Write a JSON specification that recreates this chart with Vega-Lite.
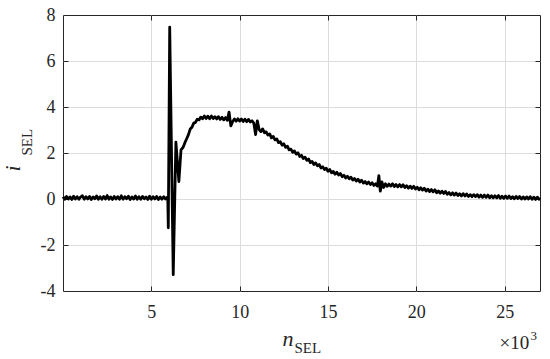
{
  "$schema": "https://vega.github.io/schema/vega-lite/v6.json",
  "width": 477,
  "height": 276,
  "autosize": {"type": "none"},
  "padding": {"left": 63, "top": 15, "right": 10, "bottom": 68},
  "background": "white",
  "config": {
    "view": {"stroke": "#262626", "strokeWidth": 1},
    "axis": {"labelFont": "Liberation Serif", "titleFont": "Liberation Serif", "titleFontWeight": "normal", "titleColor": "#262626", "labelColor": "#262626"}
  },
  "data": {
    "values": [
      {"n": 0.0, "i": 0.10}, {"n": 0.1, "i": -0.01}, {"n": 0.2, "i": 0.11}, {"n": 0.3, "i": 0.00}, {"n": 0.4, "i": 0.09},
      {"n": 0.5, "i": -0.02}, {"n": 0.6, "i": 0.12}, {"n": 0.7, "i": 0.00}, {"n": 0.8, "i": 0.10}, {"n": 0.9, "i": -0.01},
      {"n": 1.0, "i": 0.09}, {"n": 1.1, "i": 0.14}, {"n": 1.2, "i": -0.01}, {"n": 1.3, "i": 0.10}, {"n": 1.4, "i": 0.00},
      {"n": 1.5, "i": 0.11}, {"n": 1.6, "i": -0.02}, {"n": 1.7, "i": 0.09}, {"n": 1.8, "i": 0.01}, {"n": 1.9, "i": 0.13},
      {"n": 2.0, "i": -0.01}, {"n": 2.1, "i": 0.10}, {"n": 2.2, "i": -0.01}, {"n": 2.3, "i": 0.11}, {"n": 2.4, "i": 0.00},
      {"n": 2.5, "i": 0.15}, {"n": 2.6, "i": -0.01}, {"n": 2.7, "i": 0.09}, {"n": 2.8, "i": -0.02}, {"n": 2.9, "i": 0.11},
      {"n": 3.0, "i": 0.00}, {"n": 3.1, "i": 0.10}, {"n": 3.2, "i": -0.01}, {"n": 3.3, "i": 0.14}, {"n": 3.4, "i": -0.01},
      {"n": 3.5, "i": 0.10}, {"n": 3.6, "i": 0.01}, {"n": 3.7, "i": 0.12}, {"n": 3.8, "i": -0.02}, {"n": 3.9, "i": 0.09},
      {"n": 4.0, "i": 0.00}, {"n": 4.1, "i": 0.13}, {"n": 4.2, "i": -0.01}, {"n": 4.3, "i": 0.10}, {"n": 4.4, "i": -0.01},
      {"n": 4.5, "i": 0.11}, {"n": 4.6, "i": 0.01}, {"n": 4.7, "i": 0.09}, {"n": 4.8, "i": -0.02}, {"n": 4.9, "i": 0.12},
      {"n": 5.0, "i": -0.01}, {"n": 5.1, "i": 0.10}, {"n": 5.2, "i": 0.00}, {"n": 5.3, "i": 0.11}, {"n": 5.4, "i": -0.02},
      {"n": 5.5, "i": 0.09}, {"n": 5.6, "i": -0.01}, {"n": 5.7, "i": 0.10}, {"n": 5.8, "i": 0.00}, {"n": 5.9, "i": 0.08},
      {"n": 5.93, "i": 0.05}, {"n": 5.96, "i": -1.25}, {"n": 6.04, "i": 7.47}, {"n": 6.24, "i": -3.29},
      {"n": 6.39, "i": 2.47}, {"n": 6.56, "i": 0.76}, {"n": 6.68, "i": 2.14}, {"n": 6.8, "i": 2.25},
      {"n": 6.9, "i": 2.45}, {"n": 7.0, "i": 2.62}, {"n": 7.1, "i": 2.80}, {"n": 7.2, "i": 3.04}, {"n": 7.3, "i": 3.12},
      {"n": 7.4, "i": 3.30}, {"n": 7.5, "i": 3.33}, {"n": 7.6, "i": 3.47}, {"n": 7.7, "i": 3.44}, {"n": 7.8, "i": 3.56},
      {"n": 7.9, "i": 3.49}, {"n": 8.0, "i": 3.61}, {"n": 8.1, "i": 3.50}, {"n": 8.2, "i": 3.60},
      {"n": 8.3, "i": 3.49}, {"n": 8.4, "i": 3.61}, {"n": 8.5, "i": 3.50}, {"n": 8.6, "i": 3.58},
      {"n": 8.7, "i": 3.48}, {"n": 8.8, "i": 3.58}, {"n": 8.9, "i": 3.46}, {"n": 9.0, "i": 3.55},
      {"n": 9.1, "i": 3.44}, {"n": 9.2, "i": 3.54}, {"n": 9.3, "i": 3.42}, {"n": 9.4, "i": 3.78}, {"n": 9.5, "i": 3.18},
      {"n": 9.6, "i": 3.36}, {"n": 9.7, "i": 3.48}, {"n": 9.8, "i": 3.38}, {"n": 9.9, "i": 3.49}, {"n": 10.0, "i": 3.39},
      {"n": 10.1, "i": 3.48}, {"n": 10.2, "i": 3.37}, {"n": 10.3, "i": 3.47}, {"n": 10.4, "i": 3.36}, {"n": 10.5, "i": 3.46},
      {"n": 10.6, "i": 3.35}, {"n": 10.7, "i": 3.40}, {"n": 10.8, "i": 3.30},
      {"n": 10.9, "i": 2.80}, {"n": 11.0, "i": 3.40}, {"n": 11.1, "i": 3.02}, {"n": 11.2, "i": 2.93},
      {"n": 11.3, "i": 3.05}, {"n": 11.4, "i": 2.88}, {"n": 11.5, "i": 2.92}, {"n": 11.6, "i": 2.78}, {"n": 11.7, "i": 2.83},
      {"n": 11.8, "i": 2.66}, {"n": 11.9, "i": 2.72},
      {"n": 12.0, "i": 2.57}, {"n": 12.1, "i": 2.61}, {"n": 12.2, "i": 2.45}, {"n": 12.3, "i": 2.49}, {"n": 12.4, "i": 2.34},
      {"n": 12.5, "i": 2.40}, {"n": 12.6, "i": 2.25}, {"n": 12.7, "i": 2.30}, {"n": 12.8, "i": 2.14}, {"n": 12.9, "i": 2.17},
      {"n": 13.0, "i": 2.03}, {"n": 13.1, "i": 2.09}, {"n": 13.2, "i": 1.95}, {"n": 13.3, "i": 2.01}, {"n": 13.4, "i": 1.85},
      {"n": 13.5, "i": 1.90}, {"n": 13.6, "i": 1.76}, {"n": 13.7, "i": 1.82}, {"n": 13.8, "i": 1.68}, {"n": 13.9, "i": 1.74},
      {"n": 14.0, "i": 1.58}, {"n": 14.1, "i": 1.63}, {"n": 14.2, "i": 1.50}, {"n": 14.3, "i": 1.57}, {"n": 14.4, "i": 1.44},
      {"n": 14.5, "i": 1.50}, {"n": 14.6, "i": 1.35}, {"n": 14.7, "i": 1.40}, {"n": 14.8, "i": 1.28}, {"n": 14.9, "i": 1.34},
      {"n": 15.0, "i": 1.21}, {"n": 15.1, "i": 1.28}, {"n": 15.2, "i": 1.14}, {"n": 15.3, "i": 1.20}, {"n": 15.4, "i": 1.08},
      {"n": 15.5, "i": 1.16}, {"n": 15.6, "i": 1.04}, {"n": 15.7, "i": 1.11}, {"n": 15.8, "i": 0.97}, {"n": 15.9, "i": 1.03},
      {"n": 16.0, "i": 0.91}, {"n": 16.1, "i": 0.99}, {"n": 16.2, "i": 0.88}, {"n": 16.3, "i": 0.95}, {"n": 16.4, "i": 0.82},
      {"n": 16.5, "i": 0.89}, {"n": 16.6, "i": 0.78}, {"n": 16.7, "i": 0.86}, {"n": 16.8, "i": 0.74}, {"n": 16.9, "i": 0.82},
      {"n": 17.0, "i": 0.69}, {"n": 17.1, "i": 0.76}, {"n": 17.2, "i": 0.66}, {"n": 17.3, "i": 0.74}, {"n": 17.4, "i": 0.63},
      {"n": 17.5, "i": 0.71}, {"n": 17.6, "i": 0.59}, {"n": 17.7, "i": 0.66}, {"n": 17.8, "i": 0.56},
      {"n": 17.88, "i": 1.02}, {"n": 17.96, "i": 0.34}, {"n": 18.05, "i": 0.74}, {"n": 18.15, "i": 0.50}, {"n": 18.25, "i": 0.66},
      {"n": 18.35, "i": 0.55}, {"n": 18.45, "i": 0.65}, {"n": 18.55, "i": 0.56}, {"n": 18.65, "i": 0.66}, {"n": 18.75, "i": 0.54},
      {"n": 18.85, "i": 0.63}, {"n": 18.95, "i": 0.53}, {"n": 19.05, "i": 0.63}, {"n": 19.15, "i": 0.53}, {"n": 19.25, "i": 0.62},
      {"n": 19.35, "i": 0.50}, {"n": 19.45, "i": 0.58}, {"n": 19.55, "i": 0.47}, {"n": 19.65, "i": 0.56}, {"n": 19.75, "i": 0.46},
      {"n": 19.85, "i": 0.55}, {"n": 19.95, "i": 0.43}, {"n": 20.05, "i": 0.51}, {"n": 20.15, "i": 0.40}, {"n": 20.25, "i": 0.49},
      {"n": 20.35, "i": 0.39}, {"n": 20.45, "i": 0.47}, {"n": 20.55, "i": 0.35}, {"n": 20.65, "i": 0.43}, {"n": 20.75, "i": 0.32},
      {"n": 20.85, "i": 0.41}, {"n": 20.95, "i": 0.31}, {"n": 21.05, "i": 0.40}, {"n": 21.15, "i": 0.27}, {"n": 21.25, "i": 0.35},
      {"n": 21.35, "i": 0.25}, {"n": 21.45, "i": 0.34}, {"n": 21.55, "i": 0.24}, {"n": 21.65, "i": 0.33}, {"n": 21.75, "i": 0.20},
      {"n": 21.85, "i": 0.28}, {"n": 21.95, "i": 0.18}, {"n": 22.05, "i": 0.27}, {"n": 22.15, "i": 0.17}, {"n": 22.25, "i": 0.26},
      {"n": 22.35, "i": 0.15}, {"n": 22.45, "i": 0.23}, {"n": 22.55, "i": 0.13}, {"n": 22.65, "i": 0.23}, {"n": 22.75, "i": 0.13},
      {"n": 22.85, "i": 0.22}, {"n": 22.95, "i": 0.11}, {"n": 23.05, "i": 0.19}, {"n": 23.15, "i": 0.10}, {"n": 23.25, "i": 0.19},
      {"n": 23.35, "i": 0.10}, {"n": 23.45, "i": 0.19}, {"n": 23.55, "i": 0.08}, {"n": 23.65, "i": 0.17}, {"n": 23.75, "i": 0.07},
      {"n": 23.85, "i": 0.17}, {"n": 23.95, "i": 0.07}, {"n": 24.05, "i": 0.17}, {"n": 24.15, "i": 0.05}, {"n": 24.25, "i": 0.14},
      {"n": 24.35, "i": 0.05}, {"n": 24.45, "i": 0.14}, {"n": 24.55, "i": 0.05}, {"n": 24.65, "i": 0.15}, {"n": 24.75, "i": 0.03},
      {"n": 24.85, "i": 0.12}, {"n": 24.95, "i": 0.03}, {"n": 25.05, "i": 0.13}, {"n": 25.15, "i": 0.03}, {"n": 25.25, "i": 0.13},
      {"n": 25.35, "i": 0.02}, {"n": 25.45, "i": 0.10}, {"n": 25.55, "i": 0.01}, {"n": 25.65, "i": 0.11}, {"n": 25.75, "i": 0.02},
      {"n": 25.85, "i": 0.11}, {"n": 25.95, "i": 0.00}, {"n": 26.05, "i": 0.09}, {"n": 26.15, "i": 0.00}, {"n": 26.25, "i": 0.09},
      {"n": 26.35, "i": 0.00}, {"n": 26.45, "i": 0.10}, {"n": 26.55, "i": -0.01}, {"n": 26.65, "i": 0.08}, {"n": 26.75, "i": -0.02},
      {"n": 26.85, "i": 0.08}, {"n": 26.95, "i": -0.01}, {"n": 27.0, "i": 0.05}
    ]
  },
  "resolve": {"axis": {"x": "independent", "y": "independent"}},
  "layer": [
    {
      "mark": {"type": "line", "color": "black", "strokeWidth": 2.8, "strokeJoin": "round"},
      "encoding": {
        "x": {
          "field": "n", "type": "quantitative",
          "scale": {"domain": [0, 27], "nice": false, "zero": false},
          "axis": {
            "orient": "bottom", "values": [5, 10, 15, 20, 25],
            "grid": true, "gridColor": "#dcdcdc", "gridWidth": 1,
            "ticks": false, "domain": false,
            "labelFont": "Liberation Serif", "labelFontSize": 18, "labelPadding": 12,
            "title": "n", "titleFont": "Liberation Serif", "titleFontSize": 22, "titleFontStyle": "italic",
            "titleX": 219, "titleY": 54, "titleAlign": "left", "titleBaseline": "alphabetic"
          }
        },
        "y": {
          "field": "i", "type": "quantitative",
          "scale": {"domain": [-4, 8], "nice": false, "zero": false},
          "axis": {
            "orient": "left", "values": [-4, -2, 0, 2, 4, 6, 8],
            "grid": true,
            "gridColor": {"condition": {"test": "datum.value == -4 || datum.value == 8", "value": "transparent"}, "value": "#dcdcdc"},
            "gridWidth": 1,
            "ticks": false, "domain": false,
            "labelFont": "Liberation Serif", "labelFontSize": 18, "labelPadding": 8,
            "labelExpr": "datum.value + ''",
            "title": "i", "titleFont": "Liberation Serif", "titleFontSize": 22, "titleFontStyle": "italic", "titleAngle": 270,
            "titleX": -44, "titleY": 156, "titleAlign": "left", "titleBaseline": "alphabetic"
          }
        }
      }
    },
    {
      "mark": {"type": "line", "strokeOpacity": 0},
      "encoding": {
        "x": {"field": "n", "type": "quantitative", "axis": {"orient": "top", "values": [5, 10, 15, 20, 25], "labels": false, "domain": false, "grid": false, "ticks": true, "tickSize": 5, "offset": -5, "tickColor": "#262626", "title": null}},
        "y": {"field": "i", "type": "quantitative", "axis": {"orient": "right", "values": [-2, 0, 2, 4, 6], "labels": false, "domain": false, "grid": false, "ticks": true, "tickSize": 5, "offset": -5, "tickColor": "#262626", "title": null}}
      }
    },
    {
      "mark": {"type": "line", "strokeOpacity": 0},
      "encoding": {
        "x": {"field": "n", "type": "quantitative", "axis": {"orient": "bottom", "values": [5, 10, 15, 20, 25], "labels": false, "domain": false, "grid": false, "ticks": true, "tickSize": 5, "offset": -5, "tickColor": "#262626", "title": null}},
        "y": {"field": "i", "type": "quantitative", "axis": {"orient": "left", "values": [-2, 0, 2, 4, 6], "labels": false, "domain": false, "grid": false, "ticks": true, "tickSize": 5, "offset": -5, "tickColor": "#262626", "title": null}}
      }
    },
    {
      "mark": {"type": "line", "strokeOpacity": 0},
      "encoding": {
        "x": {"field": "n", "type": "quantitative", "axis": {"orient": "bottom", "labels": false, "domain": false, "grid": false, "ticks": false, "title": "SEL", "titleFont": "Liberation Serif", "titleFontSize": 15, "titleX": 231, "titleY": 61, "titleAlign": "left", "titleBaseline": "alphabetic"}},
        "y": {"field": "i", "type": "quantitative", "axis": {"orient": "left", "labels": false, "domain": false, "grid": false, "ticks": false, "title": "SEL", "titleFont": "Liberation Serif", "titleFontSize": 15, "titleAngle": 270, "titleX": -32, "titleY": 140, "titleAlign": "left", "titleBaseline": "alphabetic"}}
      }
    },
    {
      "mark": {"type": "line", "strokeOpacity": 0},
      "encoding": {
        "x": {"field": "n", "type": "quantitative", "axis": {"orient": "bottom", "labels": false, "domain": false, "grid": false, "ticks": false, "title": "×10", "titleFont": "Liberation Serif", "titleFontSize": 19, "titleX": 436, "titleY": 57, "titleAlign": "left", "titleBaseline": "alphabetic"}},
        "y": {"field": "i", "type": "quantitative", "axis": null}
      }
    },
    {
      "mark": {"type": "line", "strokeOpacity": 0},
      "encoding": {
        "x": {"field": "n", "type": "quantitative", "axis": {"orient": "bottom", "labels": false, "domain": false, "grid": false, "ticks": false, "title": "3", "titleFont": "Liberation Serif", "titleFontSize": 13, "titleX": 467, "titleY": 48, "titleAlign": "left", "titleBaseline": "alphabetic"}},
        "y": {"field": "i", "type": "quantitative", "axis": null}
      }
    }
  ]
}
